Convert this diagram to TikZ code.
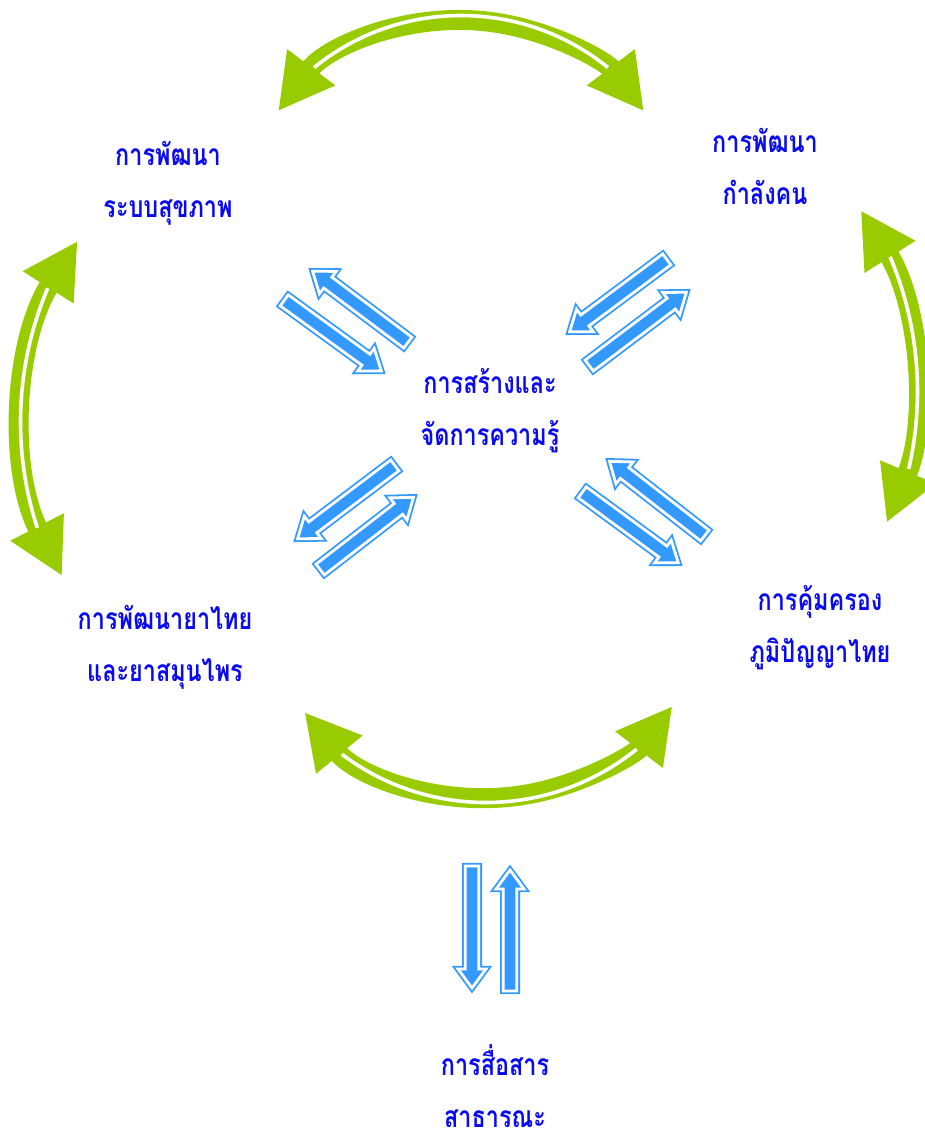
\documentclass[tikz,border=0pt]{standalone}
\usepackage{fontspec}
\usetikzlibrary{arrows.meta,calc}
\newfontfamily\thaifont[Script=Thai,FakeStretch=0.78]{Loma}
\definecolor{leaf}{RGB}{153,204,0}
\definecolor{sky}{RGB}{51,153,255}
\definecolor{ink}{RGB}{10,10,240}

\tikzset{
  barrow/.pic={
    \path[fill=sky, draw=sky, line width=0.9pt, double=white, double distance=1.4pt, line join=miter]
      (2pt,-3.4pt) -- ({#1-13pt},-3.4pt) -- ({#1-13pt},-7pt) -- ({#1-3.5pt},0pt)
      -- ({#1-13pt},7pt) -- ({#1-13pt},3.4pt) -- (2pt,3.4pt) -- cycle;
  }
}
% center, radius, from, to, stripe from, stripe to
\def\greenarc#1#2#3#4#5#6{%
  \draw[loop arrow] (#1) ++({#3}:{#2}) arc[start angle=#3, end angle=#4, radius=#2];
  \draw[stripe] (#1) ++({#5}:{#2+4.5}) arc[start angle=#5, end angle=#6, radius=#2+4.5];}
\def\blockarrow#1#2{\path let \p1=($(#2)-(#1)$), \n1={atan2(\y1,\x1)}, \n2={veclen(\x1,\y1)} in (#1) pic[rotate=\n1] {barrow=\n2};}

\begin{document}
\begin{tikzpicture}[x=0.5pt, y=-0.5pt,
    lbl/.style={text=ink, align=center, inner sep=0pt,
        font=\thaifont\bfseries\fontsize{15}{26}\selectfont},
    loop arrow/.style={draw=leaf, line width=10pt,
        {Triangle[width=28pt,length=27.5pt]}-{Triangle[width=28pt,length=27.5pt]}},
    stripe/.style={draw=white, line width=1.8pt}]
    \useasboundingbox (0,0) rectangle (925,1137);

    \node[lbl] (health) at (168,183) {การพัฒนา\\ระบบสุขภาพ};
    \node[lbl] (staff) at (765,166) {การพัฒนา\\กำลังคน};
    \node[lbl] (km) at (490,411) {การสร้างและ\\จัดการความรู้};
    \node[lbl] (drug) at (165,647) {การพัฒนายาไทย\\และยาสมุนไพร};
    \node[lbl] (wisdom) at (820,628) {การคุ้มครอง\\ภูมิปัญญาไทย};
    \node[lbl] (comm) at (495,1086) {การสื่อสาร\\สาธารณะ};

    % green cycle
    \coordinate (ctop) at (461,249);
    \coordinate (cleft) at (363,422);
    \coordinate (cright) at (573,391.5);
    \coordinate (cbottom) at (486,563);
    \greenarc{ctop}{229}{-143}{-37}{-129}{-51}
    \greenarc{cleft}{338}{212.4}{152.9}{203}{162}
    \greenarc{cright}{340}{-32.2}{22.7}{-23}{13}
    \greenarc{cbottom}{235}{140.6}{37.5}{127}{51}

    % blue arrows
    \coordinate (a1) at (411,345); \coordinate (a2) at (307,267);
    \coordinate (a3) at (281,298); \coordinate (a4) at (387,375);
    \coordinate (b1) at (670,257); \coordinate (b2) at (564,336);
    \coordinate (b3) at (586,368); \coordinate (b4) at (692,288);
    \coordinate (c1) at (398,463); \coordinate (c2) at (292,543);
    \coordinate (c3) at (317,572); \coordinate (c4) at (419,493);
    \coordinate (d1) at (708,538); \coordinate (d2) at (604,457);
    \coordinate (d3) at (579,490); \coordinate (d4) at (684,567);
    \coordinate (e1) at (472,862); \coordinate (e2) at (472,995);
    \coordinate (e3) at (510,995); \coordinate (e4) at (510,863);
    \blockarrow{a1}{a2} \blockarrow{a3}{a4}
    \blockarrow{b1}{b2} \blockarrow{b3}{b4}
    \blockarrow{c1}{c2} \blockarrow{c3}{c4}
    \blockarrow{d1}{d2} \blockarrow{d3}{d4}
    \blockarrow{e1}{e2} \blockarrow{e3}{e4}
\end{tikzpicture}
\end{document}
